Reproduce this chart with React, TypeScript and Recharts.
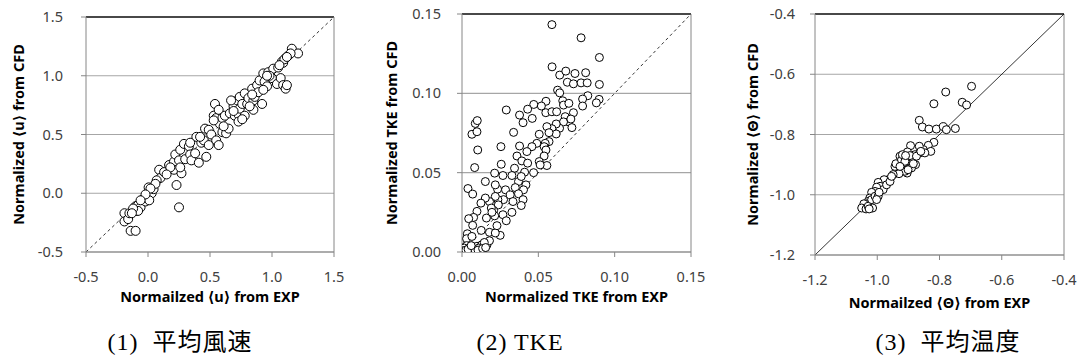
import {
  ScatterChart,
  Scatter,
  XAxis,
  YAxis,
  CartesianGrid,
  ReferenceLine,
} from "recharts";

// (1) mean wind speed: [EXP, CFD]
const uPoints: [number, number][] = [
  [-0.19, -0.17], [-0.19, -0.24], [-0.16, -0.22], [-0.14, -0.32], [-0.1, -0.32],
  [-0.15, -0.17], [-0.09, -0.15], [-0.1, -0.11], [-0.08, -0.1], [-0.06, -0.12],
  [-0.04, -0.05], [-0.02, -0.07], [-0.01, -0.03], [0.005, 0.05], [0.03, 0.0],
  [0.045, 0.035], [0.01, -0.06], [-0.08, -0.15], [0.25, -0.12], [0.23, 0.07],
  [0.09, 0.2], [0.1, 0.13], [0.13, 0.18], [0.17, 0.24], [0.21, 0.27],
  [0.21, 0.2], [0.22, 0.33], [0.25, 0.28], [0.26, 0.37], [0.27, 0.17],
  [0.29, 0.42], [0.3, 0.29], [0.33, 0.4], [0.34, 0.33], [0.35, 0.28],
  [0.38, 0.34], [0.39, 0.48], [0.41, 0.26], [0.43, 0.43], [0.45, 0.45],
  [0.46, 0.55], [0.47, 0.31], [0.49, 0.41], [0.49, 0.54], [0.51, 0.5],
  [0.53, 0.66], [0.54, 0.76], [0.55, 0.64], [0.55, 0.45], [0.57, 0.41],
  [0.57, 0.71], [0.58, 0.59], [0.6, 0.52], [0.6, 0.64], [0.62, 0.66],
  [0.63, 0.51], [0.65, 0.55], [0.66, 0.68], [0.69, 0.74], [0.7, 0.66],
  [0.72, 0.79], [0.73, 0.67], [0.74, 0.72], [0.73, 0.61], [0.74, 0.82],
  [0.76, 0.76], [0.78, 0.85], [0.78, 0.66], [0.8, 0.76], [0.81, 0.81],
  [0.84, 0.89], [0.85, 0.79], [0.85, 0.71], [0.86, 0.82], [0.88, 0.92],
  [0.89, 0.86], [0.9, 0.96], [0.92, 0.76], [0.93, 1.02], [0.94, 0.95],
  [0.96, 0.91], [0.97, 1.03], [1.0, 0.98], [1.01, 1.06], [1.04, 0.93],
  [1.05, 1.07], [1.07, 0.98], [1.08, 1.12], [1.09, 0.92], [1.11, 0.89],
  [1.11, 1.15], [1.12, 0.92], [1.13, 1.17], [1.16, 1.23], [1.21, 1.19],
  [1.15, 1.19], [0.98, 1.0], [0.96, 1.0], [0.93, 0.88], [0.82, 0.74],
  [0.76, 0.63], [0.84, 0.84], [0.69, 0.7], [0.67, 0.79], [0.53, 0.62],
  [0.61, 0.57], [0.42, 0.48], [0.34, 0.43], [0.26, 0.22], [0.18, 0.22],
  [0.15, 0.16], [0.07, 0.11], [0.06, 0.08], [0.02, 0.04], [-0.02, -0.01],
  [-0.06, -0.06], [-0.12, -0.13], [-0.13, -0.17], [1.09, 1.11], [1.1, 1.14],
  [1.12, 1.16], [1.06, 1.09],
];

// (2) TKE: [EXP, CFD]
const tkePoints: [number, number][] = [
  [0.0589, 0.1433], [0.078, 0.135], [0.09, 0.1226], [0.059, 0.1167], [0.064, 0.1115],
  [0.068, 0.114], [0.074, 0.1125], [0.081, 0.113], [0.069, 0.107], [0.073, 0.106],
  [0.078, 0.1066], [0.082, 0.1066], [0.09, 0.1056], [0.0626, 0.102], [0.064, 0.1003],
  [0.0824, 0.0985], [0.079, 0.0964], [0.0898, 0.0962], [0.088, 0.094], [0.079, 0.092],
  [0.066, 0.0953], [0.0665, 0.0926], [0.07, 0.0937], [0.055, 0.095], [0.047, 0.093],
  [0.052, 0.092], [0.043, 0.09], [0.029, 0.0895], [0.0377, 0.0863], [0.046, 0.0842],
  [0.0549, 0.0878], [0.0589, 0.0884], [0.062, 0.0884], [0.073, 0.0878], [0.0676, 0.0853],
  [0.0698, 0.082], [0.0665, 0.082], [0.0713, 0.0838], [0.0639, 0.078], [0.0617, 0.0807],
  [0.0589, 0.0777], [0.0556, 0.079], [0.072, 0.0784], [0.0617, 0.0744], [0.057, 0.0752],
  [0.0338, 0.0754], [0.04, 0.0815], [0.0506, 0.0742], [0.057, 0.0696], [0.049, 0.0685],
  [0.0545, 0.0685], [0.0538, 0.0664], [0.0458, 0.0664], [0.0377, 0.0668], [0.0425, 0.0633],
  [0.055, 0.0643], [0.036, 0.0605], [0.0538, 0.0605], [0.0392, 0.0574], [0.043, 0.056],
  [0.0506, 0.057], [0.0556, 0.0545], [0.0512, 0.0549], [0.0469, 0.05], [0.041, 0.0503],
  [0.0344, 0.0528], [0.0327, 0.0482], [0.0268, 0.0482], [0.0257, 0.0553], [0.0214, 0.0497],
  [0.037, 0.0444], [0.0419, 0.0423], [0.0388, 0.0476], [0.0403, 0.0392], [0.0349, 0.0406],
  [0.0285, 0.0392], [0.0316, 0.036], [0.037, 0.0367], [0.04, 0.033], [0.0388, 0.0293],
  [0.0327, 0.025], [0.0334, 0.0318], [0.0272, 0.033], [0.0233, 0.0396], [0.0235, 0.033],
  [0.0218, 0.035], [0.0238, 0.0297], [0.0207, 0.0262], [0.0268, 0.0235], [0.029, 0.0197],
  [0.0214, 0.0228], [0.018, 0.0318], [0.0153, 0.0444], [0.0153, 0.034], [0.0124, 0.0308],
  [0.0098, 0.0256], [0.0076, 0.0218], [0.0044, 0.021], [0.007, 0.0168], [0.016, 0.0214],
  [0.0192, 0.0277], [0.0196, 0.025], [0.018, 0.0124], [0.0126, 0.0136], [0.025, 0.0105],
  [0.0218, 0.012], [0.0229, 0.0166], [0.0039, 0.04], [0.007, 0.0365], [0.0065, 0.0742],
  [0.0087, 0.081], [0.01, 0.0828], [0.0098, 0.0758], [0.0103, 0.0643], [0.0083, 0.0532],
  [0.0035, 0.0115], [0.003, 0.0084], [0.0065, 0.0098], [0.0, 0.0], [0.001, 0.0015],
  [0.002, 0.003], [0.003, 0.004], [0.0015, 0.0025], [0.0055, 0.002], [0.0076, 0.0025],
  [0.0098, 0.0036], [0.012, 0.003], [0.014, 0.0036], [0.0164, 0.0046], [0.013, 0.0046],
  [0.011, 0.0025], [0.018, 0.0071], [0.0146, 0.006], [0.0255, 0.0664], [0.0218, 0.0423],
  [0.0005, 0.0008], [0.0025, 0.0012], [0.004, 0.0018], [0.0085, 0.0015], [0.0105, 0.0012],
  [0.0135, 0.0022], [0.0155, 0.0028], [0.006, 0.004],
];

// (3) mean temperature: [EXP, CFD]
const thetaPoints: [number, number][] = [
  [-0.697, -0.64], [-0.78, -0.659], [-0.818, -0.698], [-0.727, -0.693], [-0.713, -0.702],
  [-0.865, -0.753], [-0.855, -0.775], [-0.834, -0.782], [-0.81, -0.782], [-0.788, -0.774],
  [-0.778, -0.784], [-0.749, -0.78], [-0.818, -0.826], [-0.836, -0.836], [-0.828, -0.856],
  [-0.852, -0.85], [-0.865, -0.839], [-0.893, -0.837], [-0.903, -0.858], [-0.879, -0.867],
  [-0.863, -0.861], [-0.888, -0.884], [-0.877, -0.9], [-0.906, -0.878], [-0.917, -0.895],
  [-0.927, -0.872], [-0.935, -0.9], [-0.943, -0.906], [-0.94, -0.897], [-0.922, -0.884],
  [-0.911, -0.889], [-0.895, -0.87], [-0.89, -0.911], [-0.904, -0.928], [-0.911, -0.922],
  [-0.93, -0.93], [-0.949, -0.933], [-0.965, -0.95], [-0.978, -0.95], [-0.997, -0.959],
  [-0.991, -0.972], [-0.981, -0.983], [-1.002, -0.975], [-1.007, -0.989], [-1.013, -1.0],
  [-1.018, -0.992], [-1.024, -1.011], [-1.029, -1.022], [-1.034, -1.03], [-1.043, -1.03],
  [-1.05, -1.044], [-1.036, -1.047], [-1.029, -1.038], [-1.018, -1.016], [-1.007, -1.005],
  [-0.997, -1.005], [-0.994, -0.992], [-1.015, -1.044], [-1.026, -1.047], [-1.002, -1.016],
  [-0.97, -0.967], [-0.959, -0.956], [-0.954, -0.939], [-0.901, -0.917], [-0.884, -0.897],
  [-0.874, -0.872], [-0.847, -0.861], [-0.86, -0.856], [-0.927, -0.906], [-0.919, -0.867],
  [-0.909, -0.87],
];

const uTicks = [-0.5, 0, 0.5, 1.0, 1.5];
const tkeTicks = [0, 0.05, 0.1, 0.15];
const thetaTicks = [-1.2, -1.0, -0.8, -0.6, -0.4];

const AXIS = "#868686";
const GRID = "#a6a6a6";
const TICK_FONT = { fontSize: 14.5, fill: "#404040", fontFamily: "Noto Sans" };
const TITLE_FONT = { fontSize: 14.5, fontWeight: 700, fill: "#000", fontFamily: "Noto Sans, DejaVu Sans" };

type PanelProps = {
  left: number;
  width: number;
  top: number;
  plotBottom: number;
  right: number;
  yWidth: number;
  yTickMargin: number;
  xTitleOffset: number;
  yTitleX: number;
  points: [number, number][];
  ticks: number[];
  digits: number;
  xTitle: string;
  yTitle: string;
  dashed: boolean;
  r: number;
  caption: string;
  captionX: number;
};

function Panel(p: PanelProps) {
  const lo = p.ticks[0]!;
  const hi = p.ticks[p.ticks.length - 1]!;
  const data = p.points.map(([x, y]) => ({ x, y }));
  const fmt = (v: number) => v.toFixed(p.digits);
  return (
    <div style={{ position: "absolute", left: p.left, top: 0, width: p.width, height: 361 }}>
      <ScatterChart
        width={p.width}
        height={361}
        margin={{ top: p.top, right: p.right, left: 0, bottom: 361 - p.plotBottom - 40 }}
      >
        <CartesianGrid horizontal vertical={false} stroke={GRID} strokeWidth={1.2} />
        <XAxis
          type="number"
          dataKey="x"
          domain={[lo, hi]}
          ticks={p.ticks}
          tickFormatter={fmt}
          height={40}
          tick={TICK_FONT}
          tickSize={5}
          tickMargin={15}
          axisLine={{ stroke: AXIS }}
          tickLine={{ stroke: AXIS }}
          allowDataOverflow
          label={{ value: p.xTitle, position: "insideTop", offset: p.xTitleOffset, style: TITLE_FONT }}
        />
        <YAxis
          type="number"
          dataKey="y"
          domain={[lo, hi]}
          ticks={p.ticks}
          tickFormatter={fmt}
          width={p.yWidth}
          tick={TICK_FONT}
          tickSize={5}
          tickMargin={p.yTickMargin}
          axisLine={{ stroke: AXIS }}
          tickLine={{ stroke: AXIS }}
          allowDataOverflow
          label={{
            value: p.yTitle,
            angle: -90,
            position: "insideLeft",
            offset: p.yTitleX,
            style: { ...TITLE_FONT, textAnchor: "middle" },
          }}
        />
        <ReferenceLine y={hi} stroke="#1a1a1a" strokeWidth={1.3} />
        <ReferenceLine x={hi} stroke={AXIS} strokeWidth={1} />
        <ReferenceLine
          segment={[{ x: lo, y: lo }, { x: hi, y: hi }]}
          stroke="#000"
          strokeWidth={0.8}
          strokeDasharray={p.dashed ? "3 3" : undefined}
        />
        <Scatter
          data={data}
          isAnimationActive={false}
          shape={(s: any) => (
            <circle cx={s.cx} cy={s.cy} r={p.r} fill="#fff" stroke="#000" strokeWidth={1} />
          )}
        />
      </ScatterChart>
      <div
        style={{
          position: "absolute",
          left: p.captionX - p.left - 110,
          width: 220,
          top: 327,
          lineHeight: "30px",
          textAlign: "center",
          fontFamily: "'Liberation Serif', 'Noto Sans CJK JP'",
          fontSize: 24,
          letterSpacing: 1,
          color: "#000",
          whiteSpace: "pre",
        }}
      >
        {p.caption}
      </div>
    </div>
  );
}

export default function App() {
  return (
    <div style={{ position: "absolute", left: 0, top: 0, width: 1081, height: 361, background: "#fff" }}>
      <Panel
        left={0}
        width={360}
        top={17}
        plotBottom={252}
        right={26}
        yWidth={86}
        yTickMargin={18}
        xTitleOffset={40}
        yTitleX={19}
        points={uPoints}
        ticks={uTicks}
        digits={1}
        xTitle="Normailzed ⟨u⟩ from  EXP"
        yTitle="Normalized ⟨u⟩ from CFD"
        dashed
        r={4.5}
        caption="(1)  平均風速"
        captionX={180}
      />
      <Panel
        left={360}
        width={360}
        top={14}
        plotBottom={252}
        right={29}
        yWidth={102}
        yTickMargin={16}
        xTitleOffset={40}
        yTitleX={32}
        points={tkePoints}
        ticks={tkeTicks}
        digits={2}
        xTitle="Normalized TKE from EXP"
        yTitle="Normalized TKE from CFD"
        dashed
        r={4}
        caption="(2) TKE"
        captionX={520}
      />
      <Panel
        left={720}
        width={361}
        top={14}
        plotBottom={255}
        right={17}
        yWidth={95}
        yTickMargin={15}
        xTitleOffset={43}
        yTitleX={33}
        points={thetaPoints}
        ticks={thetaTicks}
        digits={1}
        xTitle="Normailzed ⟨Θ⟩ from EXP"
        yTitle="Normalized ⟨Θ⟩ from CFD"
        dashed={false}
        r={4}
        caption="(3)  平均温度"
        captionX={948}
      />
    </div>
  );
}
